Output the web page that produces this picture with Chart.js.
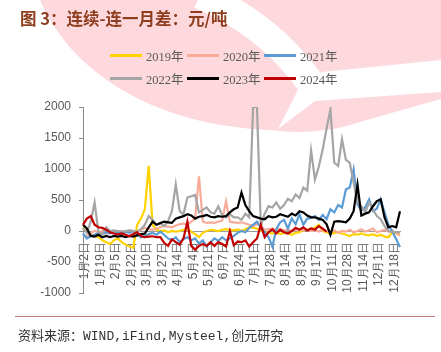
<!DOCTYPE html>
<html>
<head>
<meta charset="utf-8">
<script src="https://cdn.jsdelivr.net/npm/chart.js@4.4.1/dist/chart.umd.min.js"></script>
<style>
  body { margin: 0; background: #fff; }
  #box { position: relative; width: 441px; height: 352px; overflow: hidden; }
  #chart { position: absolute; left: 0; top: 0; }
  #title { position: absolute; left: 20px; top: 6px; font: bold 16.5px "Noto Sans CJK SC", sans-serif; color: #8e3e1e; white-space: nowrap; }
  .item { position: absolute; display: flex; align-items: center; height: 16px; font: 12.5px "Liberation Serif", "Noto Sans CJK SC", serif; color: #595959; white-space: nowrap; }
  .item i { display: inline-block; width: 32px; height: 3px; margin-right: 4px; }
  #rule { position: absolute; left: 15px; width: 420px; top: 316px; border-top: 1px solid #bf7b7b; }
  #src { position: absolute; left: 18px; top: 325px; font: 13px "Liberation Mono", "Noto Sans CJK SC", monospace; color: #333; white-space: nowrap; }
</style>
</head>
<body>
<div id="box">
  <canvas id="chart" width="441" height="352"></canvas>
  <div id="title">图 3：连续-连一月差：元/吨</div>
  <div id="legend"></div>
  <div id="rule"></div>
  <div id="src">资料来源：WIND,iFind,Mysteel,创元研究</div>
</div>
<script>
const years = ['2019年', '2020年', '2021年', '2022年', '2023年', '2024年'];
const colors = ['#ffd200', '#f9ab98', '#5b9bd5', '#a5a5a5', '#000000', '#c00000'];

const tickLabels = ['1月2日', '1月19日', '2月5日', '2月22日', '3月10日', '3月27日', '4月14日',
  '5月4日', '5月21日', '6月7日', '6月24日', '7月11日', '7月28日', '8月14日', '8月31日',
  '9月17日', '10月11日', '10月28日', '11月14日', '12月1日', '12月18日'];

const y2019 = [60, -20, -50, -80, -100, -150, -180, -210, -150, -120,
  -180, -220, -250, -270, 100, 200, 350, 1050, 100, 20,
  0, 10, -20, 0, -10, 0, 20, 30, -10, -50,
  -100, -30, 0, 20, 10, 0, 20, 30, 20, 10,
  25, 0, 30, 60, 50, 40, 0, -20, -30, -40,
  -20, -50, -30, -40, -60, -30, -20, 10, 20, 40,
  50, 100, 0, -20, -50, -30, -20, -40, -60, -80,
  -50, -60, -40, -60, -70, -50, -80, -60, -90, -100,
  -20, -40, -30];
const y2020 = [-50, -100, -30, 0, -20, 0, -40, -30, -10, -20,
  0, -30, 10, 0, -20, 20, 50, 30, 20, 40,
  60, 80, 70, 60, 90, 110, 120, 100, 150, 200,
  880, 150, 130, 140, 130, 150, 170, 480, 150, 140,
  130, 140, 120, 100, 80, 110, 70, 20, 30, 40,
  20, 30, 10, 20, 0, 20, 30, 10, 20, 0,
  10, -10, 20, 0, -20, 10, -30, 0, -10, 20,
  -20, 0, 30, -10, 10, 40, -20, 0, 20, -10,
  10, -30, -80];
const y2021 = [-40, -120, -80, -60, -30, -50, -20, -40, 0, -20,
  -40, -10, -30, 0, -60, -100, -80, -50, -30, -60,
  -10, -60, -120, -150, -100, -180, -130, -100, -150, -120,
  -200, -150, -250, -180, -120, -160, -100, -150, -120, -80,
  -30, 0, -20, 50, 100, 150, 60, -20, -100, -250,
  30, 140, 180, 40, 200, 110, 270, 100, 200, 210,
  240, 180, 260, 190, 350, 300, 420, 380, 670, 700,
  990, 430, 330, 380, 510, 320, 360, 510, 300, 100,
  -10, -130, -260];
const y2022 = [50, -30, 150, 460, -20, -50, 60, 0, 10, 0,
  -10, 0, 10, 0, -10, 30, 100, 240, 180, 100,
  120, 80, 160, 320, 750, 320, 270, 540, 560, 580,
  300, 340, 380, 300, 280, 400, 260, 220, 270, 220,
  220, 180, 280, 220, 2000, 2000, 80, 280, 400, 380,
  460, 360, 420, 520, 480, 590, 530, 700, 650, 1300,
  830, 1040, 1315, 1650, 1960, 1100, 1050, 1480, 1150, 1100,
  780, 460, 400, 300, 460, 350, 240, 190, 80, 0,
  -20, -20, -20];
const y2023 = [100, 40, -80, -90, -60, -100, -80, -100, -80, -90,
  -80, -100, -80, -90, -70, -50, -40, 60, 150, 100,
  130, 150, 140, 130, 200, 220, 240, 270, 250, 200,
  230, 240, 260, 230, 220, 240, 230, 240, 300, 350,
  380, 620, 420, 320, 240, 220, 200, 190, 240, 220,
  230, 270, 250, 230, 280, 250, 320, 300, 250, 220,
  220, 200, 180, 110, -60, 150, 160, 150, 140, 200,
  320, 750, 250, 280, 300, 400, 480, 510, 220, 60,
  80, 60, 320];
const y2024 = [100, 200, 240, 100, 60, 50, 20, -20, -40, -55,
  -40, -60, -85, -50, -20, -80, -100, -90, -85, -100,
  -100, -190, -240, -135, -180, -220, -120, 150, -240, -300,
  -240, -210, -240, -180, -240, -180, -210, -250, 0, -230,
  -170, -180, -150, -250, -180, -120, 100, -100, -20, 30,
  -40, 20, -20, -40, 0, 50, 20, 60, 10, 40,
  20, 80, 40, -10];

const series = [y2019, y2020, y2021, y2022, y2023, y2024];

// one category per point, a date label on every 4th one
const labels = y2019.map((v, i) => (i % 4 === 0 ? (tickLabels[i / 4] || '') : ''));

// legend as text next to little line swatches
const legend = document.getElementById('legend');
years.forEach((name, k) => {
  const el = document.createElement('div');
  el.className = 'item';
  el.style.left = (110 + (k % 3) * 77) + 'px';
  el.style.top = (k < 3 ? 47 : 70) + 'px';
  el.innerHTML = '<i style="background:' + colors[k] + '"></i>' + name;
  legend.appendChild(el);
});

// faint pink logo in the background
const watermark = {
  id: 'watermark',
  beforeDraw(chart) {
    const ctx = chart.ctx;
    ctx.save();
    ctx.fillStyle = '#fdd9de';
    ctx.beginPath();
    ctx.moveTo(40, 0);
    ctx.bezierCurveTo(70, 70, 150, 125, 270, 130);
    ctx.bezierCurveTo(300, 134, 330, 132, 360, 122);
    ctx.lineTo(441, 99);
    ctx.lineTo(441, 0);
    ctx.closePath();
    ctx.fill();
    ctx.strokeStyle = '#ffffff';
    ctx.lineWidth = 28;
    ctx.beginPath();
    ctx.moveTo(200, -5);
    ctx.quadraticCurveTo(270, 25, 312, 85);
    ctx.stroke();
    ctx.fillStyle = '#ffffff';
    ctx.beginPath();
    ctx.moveTo(278, 129);
    ctx.lineTo(298, 90);
    ctx.lineTo(322, 72);
    ctx.lineTo(441, 60);
    ctx.lineTo(441, 92);
    ctx.lineTo(315, 101);
    ctx.closePath();
    ctx.fill();
    ctx.restore();
  }
};

new Chart(document.getElementById('chart'), {
  type: 'line',
  data: {
    labels: labels,
    datasets: series.map((d, k) => ({
      label: years[k],
      data: d,
      borderColor: colors[k],
      backgroundColor: colors[k],
      borderWidth: 2.2,
      pointRadius: 0,
      tension: 0,
      order: 5 - k
    }))
  },
  options: {
    responsive: false,
    animation: false,
    layout: { padding: { left: 0, right: 41, top: 107, bottom: 59 } },
    plugins: { legend: { display: false }, tooltip: { enabled: false } },
    scales: {
      x: {
        position: { y: 0 },
        grid: { display: false },
        border: { display: true, color: '#9a9a9a', width: 1 },
        ticks: {
          autoSkip: false,
          minRotation: 90,
          maxRotation: 90,
          padding: 3,
          labelOffset: 2,
          color: '#595959',
          font: { family: 'Liberation Sans', size: 12 }
        }
      },
      y: {
        min: -1000,
        max: 2000,
        afterFit: s => { s.width = 83; },
        grid: { display: true, drawOnChartArea: false, drawTicks: true, tickLength: 4, color: '#8a8a8a' },
        border: { display: true, color: '#8a8a8a', width: 1 },
        ticks: {
          stepSize: 500,
          padding: 8,
          color: '#595959',
          font: { family: 'Liberation Sans', size: 12 },
          callback: v => String(v)
        }
      }
    }
  },
  plugins: [watermark]
});
</script>
</body>
</html>
